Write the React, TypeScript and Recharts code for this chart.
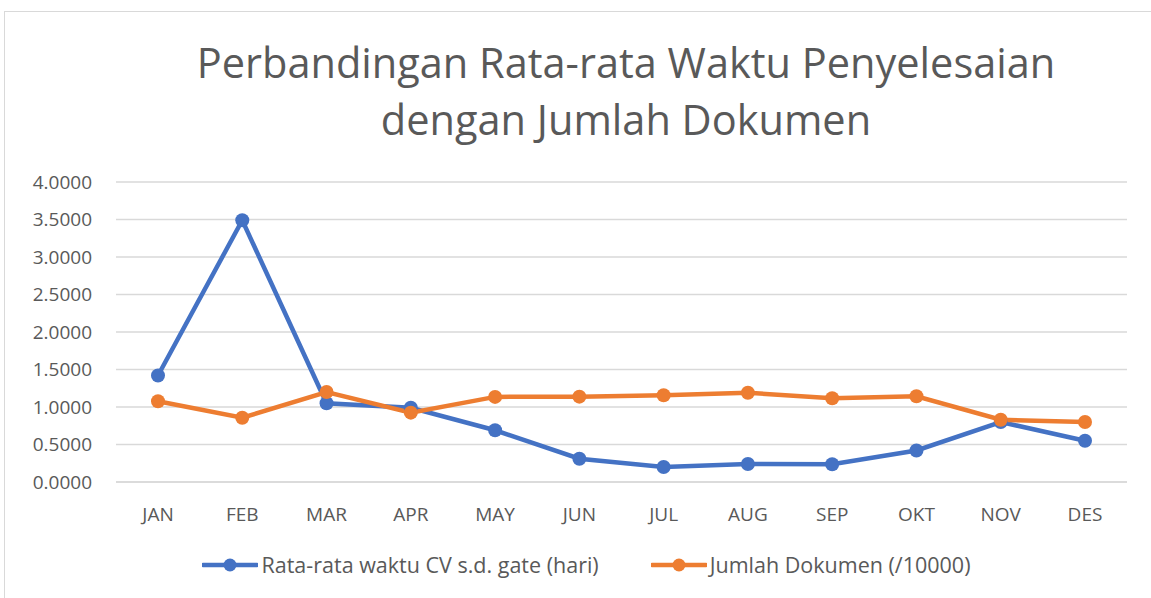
import React from "react";
import { LineChart, Line, XAxis, YAxis, CartesianGrid } from "recharts";

const months = ["JAN", "FEB", "MAR", "APR", "MAY", "JUN", "JUL", "AUG", "SEP", "OKT", "NOV", "DES"];
const rataRataWaktu = [1.42, 3.49, 1.05, 0.99, 0.69, 0.31, 0.2, 0.24, 0.237, 0.42, 0.8, 0.55];
const jumlahDokumen = [1.076, 0.857, 1.2, 0.925, 1.135, 1.138, 1.156, 1.19, 1.116, 1.143, 0.83, 0.8];
const yTicks = [0, 0.5, 1, 1.5, 2, 2.5, 3, 3.5, 4];
const seriesNames = ["Rata-rata waktu CV s.d. gate (hari)", "Jumlah Dokumen (/10000)"];
const titleLines = ["Perbandingan Rata-rata Waktu Penyelesaian", "dengan Jumlah Dokumen"];

const BLUE = "#4472C4";
const ORANGE = "#ED7D31";
const FONT = "'Open Sans', 'Noto Sans', sans-serif";

const data = months.map((m, i) => ({ month: m, a: rataRataWaktu[i], b: jumlahDokumen[i] }));

const LegendContent = () => {
  const items = [
    { name: seriesNames[0], color: BLUE },
    { name: seriesNames[1], color: ORANGE },
  ];
  return (
    <div style={{ display: "flex", justifyContent: "center", gap: 52, fontFamily: FONT, fontSize: 21.5, color: "#595959", paddingLeft: 22 }}>
      {items.map((it) => (
        <div key={it.name} style={{ display: "flex", alignItems: "center" }}>
          <svg width={56} height={16} style={{ marginRight: 3 }}>
            <line x1={1} y1={8} x2={55} y2={8} stroke={it.color} strokeWidth={4.5} strokeLinecap="round" />
            <circle cx={28} cy={8} r={6.5} fill={it.color} />
          </svg>
          <span>{it.name}</span>
        </div>
      ))}
    </div>
  );
};

export default function App() {
  return (
    <div style={{ position: "absolute", left: 0, top: 0, width: 1151, height: 598, background: "#fff", overflow: "hidden" }}>
      <div
        style={{
          position: "absolute",
          left: 4,
          top: 11,
          width: 1160,
          height: 600,
          border: "1px solid #d9d9d9",
          boxSizing: "border-box",
        }}
      />
      <div
        style={{
          position: "absolute",
          left: 0,
          top: 34,
          width: 1252,
          textAlign: "center",
          fontFamily: FONT,
          fontSize: 41.5,
          lineHeight: "57px",
          color: "#595959",
        }}
      >
        {titleLines.map((t) => (
          <div key={t}>{t}</div>
        ))}
      </div>
      <div style={{ position: "absolute", left: 0, top: 0 }}>
        <LineChart width={1151} height={598} data={data} margin={{ top: 182, right: 24, bottom: 86, left: 16 }}>
          <CartesianGrid vertical={false} stroke="#d9d9d9" strokeWidth={1.5} />
          <XAxis
            dataKey="month"
            padding={{ left: 42, right: 42 }}
            axisLine={{ stroke: "#d9d9d9", strokeWidth: 1.5 }}
            tickLine={false}
            tick={{ fill: "#595959", fontSize: 19, fontFamily: FONT }}
            tickMargin={20}
          />
          <YAxis
            width={100}
            domain={[0, 4]}
            ticks={yTicks}
            axisLine={false}
            tickLine={false}
            tickMargin={18}
            tickFormatter={(v: number) => v.toFixed(4)}
            tick={{ fill: "#595959", fontSize: 19, fontFamily: FONT }}
          />
          <Line
            dataKey="a"
            name={seriesNames[0]}
            stroke={BLUE}
            strokeWidth={4.5}
            dot={{ r: 7, fill: BLUE, stroke: BLUE, strokeWidth: 0 }}
            isAnimationActive={false}
          />
          <Line
            dataKey="b"
            name={seriesNames[1]}
            stroke={ORANGE}
            strokeWidth={4.5}
            dot={{ r: 7, fill: ORANGE, stroke: ORANGE, strokeWidth: 0 }}
            isAnimationActive={false}
          />
        </LineChart>
      </div>
      <div style={{ position: "absolute", left: 0, top: 550, width: 1151 }}>
        <LegendContent />
      </div>
    </div>
  );
}
